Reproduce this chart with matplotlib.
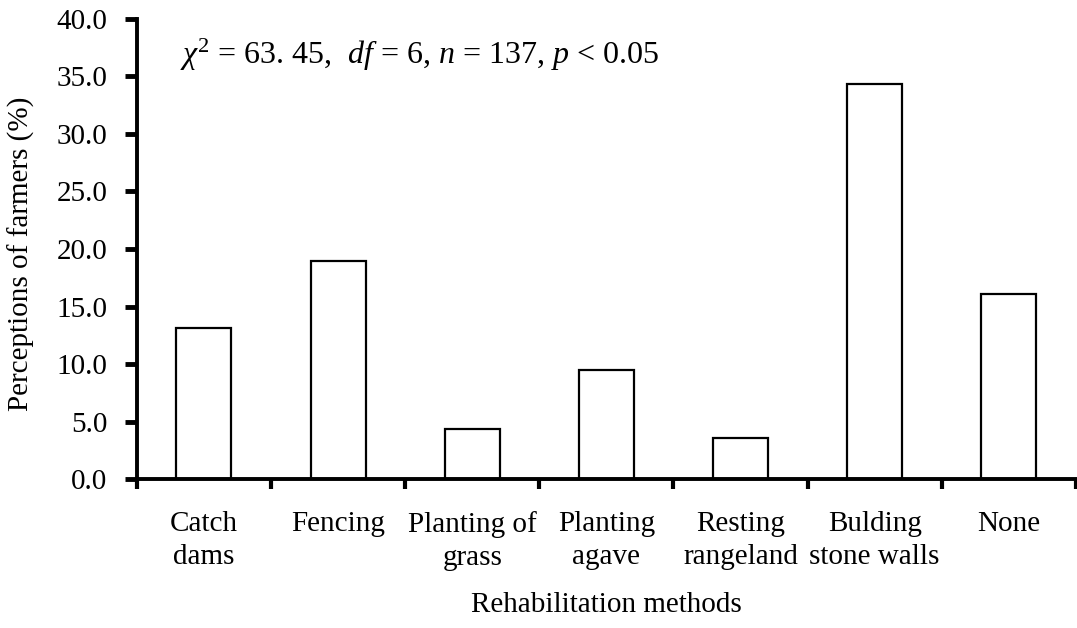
import numpy as np
import matplotlib
matplotlib.use('Agg')
import matplotlib.pyplot as plt

# data
methods = ['Catch\ndams', 'Fencing', 'Planting of\ngrass', 'Planting\nagave',
           'Resting\nrangeland', 'Bulding\nstone walls', 'None']
percent = [13.1, 19.0, 4.4, 9.5, 3.6, 34.3, 16.1]
yticks = [0, 5, 10, 15, 20, 25, 30, 35, 40]

plt.rcParams['font.family'] = ['Liberation Serif', 'DejaVu Serif']
plt.rcParams['mathtext.fontset'] = 'custom'
plt.rcParams['mathtext.rm'] = 'Liberation Serif'
plt.rcParams['mathtext.it'] = 'Liberation Serif:italic'
plt.rcParams['font.size'] = 21

fig = plt.figure(figsize=(10.77, 6.28), dpi=100)
ax = fig.add_axes([0.127, 0.237, 0.872, 0.733])

x = np.arange(len(methods))
ax.bar(x, percent, width=0.41, color='white', edgecolor='black', linewidth=1.6)

ax.set_xlim(-0.5, len(methods) - 0.5)
ax.set_ylim(0, 40)
ax.set_yticks(yticks)
ax.set_yticklabels(['%.1f' % v for v in yticks])

ax.set_xticks(x)
ax.set_xticklabels(methods, linespacing=1.35, va='top')
ax.set_xticks(np.arange(len(methods) + 1) - 0.5, minor=True)
ax.tick_params(axis='x', which='major', length=0, pad=23)
ax.tick_params(axis='x', which='minor', length=7, width=3, direction='out')
ax.tick_params(axis='y', length=9, width=3.5, direction='out', pad=12)

for s in ['top', 'right']:
    ax.spines[s].set_visible(False)
for s in ['left', 'bottom']:
    ax.spines[s].set_linewidth(2.8)

ax.set_ylabel('Perceptions of farmers (%)')
ax.yaxis.set_label_coords(-0.108, 0.49)
ax.set_xlabel('Rehabilitation methods')
ax.xaxis.set_label_coords(0.5, -0.245)

ax.text(0.046, 0.922, r'$\chi^2$ = 63. 45,  $df$ = 6, $n$ = 137, $p$ < 0.05',
        transform=ax.transAxes, ha='left', va='center', fontsize=23)

fig.savefig('out.png', dpi=100)
